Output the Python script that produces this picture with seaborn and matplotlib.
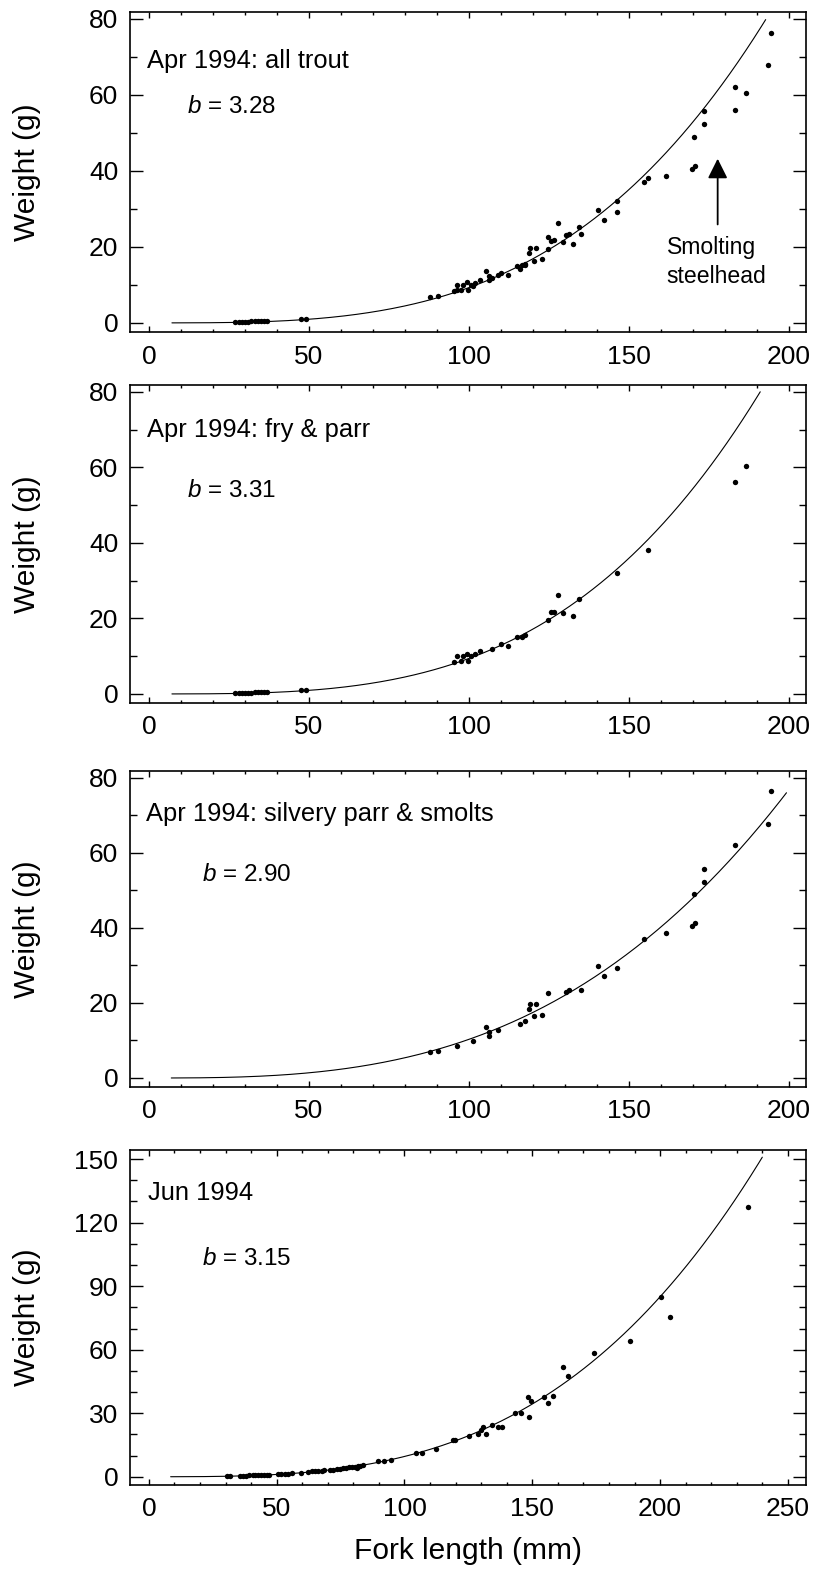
import numpy as np
import pandas as pd
import matplotlib
matplotlib.use("Agg")
import matplotlib.pyplot as plt
import seaborn as sns
from matplotlib.ticker import MultipleLocator

# ---------------- data ----------------
# Apr 1994: fry & parr
fry_len = [27, 28, 29, 30, 31, 32, 33, 34, 35, 36, 37, 47.6, 49.0,
           95.4, 96.3, 97.4, 98.2, 99.5, 99.6, 100.5, 101.8, 103.3, 107.2,
           110.0, 112.1, 114.9, 116.7, 117.5, 124.8, 125.6, 126.7, 127.7,
           129.4, 132.4, 134.3, 146.3, 155.8, 183.2, 186.7]
fry_wt = [0.25, 0.28, 0.30, 0.32, 0.35, 0.38, 0.40, 0.43, 0.46, 0.50, 0.55, 1.0, 1.1,
          8.4, 10.0, 8.6, 10.0, 10.7, 8.6, 10.0, 10.6, 11.3, 11.9,
          13.2, 12.6, 15.0, 15.2, 15.5, 19.5, 21.6, 21.8, 26.3,
          21.4, 20.7, 25.2, 32.0, 38.0, 56.0, 60.4]

# Apr 1994: silvery parr & smolts
smolt_len = [87.9, 90.2, 96.3, 101.4, 105.2, 106.2, 106.2, 109.1, 115.9, 117.6,
             118.9, 119.1, 120.8, 120.2, 122.7, 124.8, 130.4, 131.1, 135.0, 140.2,
             142.2, 146.3, 154.8, 161.6, 169.7, 170.7, 170.4, 173.4, 173.4, 183.2,
             193.5, 194.4]
smolt_wt = [6.9, 7.2, 8.6, 9.8, 13.7, 12.3, 11.3, 12.7, 14.3, 15.3,
            18.5, 19.6, 19.6, 16.4, 16.7, 22.7, 23.0, 23.4, 23.5, 29.8,
            27.2, 29.3, 37.1, 38.7, 40.5, 41.3, 49.0, 52.3, 55.7, 62.1,
            67.8, 76.4]

# Jun 1994
jun_len = [30.4, 31.7, 35.6, 36.9, 38.0, 39.3, 40.6, 41.5, 42.8, 43.9, 45.0, 46.1, 47.0,
           50.7, 51.7, 53.3, 54.6, 55.9, 59.4, 62.4, 63.8, 65.0, 66.3, 67.6, 68.5,
           70.9, 72.2, 73.5, 74.8, 76.1, 77.2, 78.3, 79.4, 80.7, 81.8, 82.7, 83.7, 81.3,
           89.8, 91.8, 94.6, 104.5, 107.0, 112.2, 119.1, 119.8, 125.4, 128.9, 129.9,
           130.7, 131.8, 134.4, 136.7, 138.2, 143.4, 145.6, 148.8, 148.3, 149.4,
           154.5, 156.3, 158.2, 162.2, 164.0, 174.3, 188.4, 200.3, 204.0, 234.6]
jun_wt = [0.30, 0.35, 0.45, 0.50, 0.55, 0.60, 0.65, 0.70, 0.75, 0.80, 0.90, 0.95, 1.0,
          1.2, 1.3, 1.4, 1.5, 1.6, 2.0, 2.3, 2.5, 2.6, 2.8, 2.9, 3.0,
          3.2, 3.4, 3.6, 3.8, 4.0, 4.2, 4.4, 4.6, 4.8, 5.0, 5.3, 5.7, 4.0,
          7.2, 7.4, 8.1, 11.3, 11.3, 13.1, 17.3, 17.3, 19.1, 20.3, 22.1,
          23.3, 20.3, 24.4, 23.6, 23.6, 30.2, 30.2, 28.3, 37.5, 35.8,
          37.5, 34.8, 38.3, 51.7, 47.7, 58.4, 64.1, 84.9, 75.6, 127.3]

panel_titles = ["Apr 1994: all trout", "Apr 1994: fry & parr",
                "Apr 1994: silvery parr & smolts", "Jun 1994"]
b_values = [3.28, 3.31, 2.90, 3.15]
# fitted W = a * L^b curves: start length, and end point
fit_start_len = [7.2, 7.2, 7.0, 8.5]
fit_end_len = [192.7, 191.0, 199.2, 240.0]
fit_end_wt = [79.8, 80.0, 76.0, 150.9]

x_ticks_apr = [0, 50, 100, 150, 200]
x_ticks_jun = [0, 50, 100, 150, 200, 250]
y_ticks_apr = [0, 20, 40, 60, 80]
y_ticks_jun = [0, 30, 60, 90, 120, 150]

# ---------------- style ----------------
sns.set_style("ticks")
plt.rcParams["font.family"] = ["Liberation Sans", "DejaVu Sans"]
plt.rcParams["mathtext.fontset"] = "custom"
plt.rcParams["mathtext.it"] = "Liberation Sans:italic"
plt.rcParams["mathtext.rm"] = "Liberation Sans"

fig = plt.figure(figsize=(8.13, 15.70), dpi=100)
W, H = 813.0, 1570.0
left_px, right_px = 130, 806
frames = [(12, 332), (385, 703), (771, 1087), (1150, 1485)]

datasets = [
    (list(fry_len) + list(smolt_len), list(fry_wt) + list(smolt_wt)),
    (fry_len, fry_wt),
    (smolt_len, smolt_wt),
    (jun_len, jun_wt),
]
title_pos = [(0.025, 0.826), (0.025, 0.837), (0.023, 0.841), (0.027, 0.851)]
b_pos = [(0.084, 0.684), (0.084, 0.649), (0.107, 0.651), (0.107, 0.657)]

axes = []
for i in range(4):
    top, bot = frames[i]
    ax = fig.add_axes([left_px / W, 1 - bot / H, (right_px - left_px) / W, (bot - top) / H])
    axes.append(ax)
    L, Wt = datasets[i]
    df = pd.DataFrame({"length": L, "weight": Wt})
    sns.scatterplot(data=df, x="length", y="weight", ax=ax, color="black",
                    s=15, linewidth=0, zorder=3)
    Lc = np.linspace(fit_start_len[i], fit_end_len[i], 300)
    a = fit_end_wt[i] / fit_end_len[i] ** b_values[i]
    cdf = pd.DataFrame({"length": Lc, "weight": a * Lc ** b_values[i]})
    sns.lineplot(data=cdf, x="length", y="weight", ax=ax, color="black",
                 linewidth=0.8, sort=False, estimator=None, zorder=2)

    if i < 3:
        ax.set_xlim(-5.9, 205.3)
        ax.set_ylim(-2.4, 81.8)
        ax.set_xticks(x_ticks_apr)
        ax.set_yticks(y_ticks_apr)
    else:
        ax.set_xlim(-7.4, 257.1)
        ax.set_ylim(-3.9, 154.3)
        ax.set_xticks(x_ticks_jun)
        ax.set_yticks(y_ticks_jun)
    ax.xaxis.set_minor_locator(MultipleLocator(10))
    ax.yaxis.set_minor_locator(MultipleLocator(10))

    ax.tick_params(axis="both", which="both", direction="in", top=True, right=True,
                   width=1.0, color="black", labelcolor="black")
    ax.tick_params(axis="y", which="major", length=9.5, pad=8.5, labelsize=19)
    ax.tick_params(axis="y", which="minor", length=5)
    ax.tick_params(axis="x", which="major", length=4.3, pad=9, labelsize=19)
    ax.tick_params(axis="x", which="minor", length=2.5)
    for sp in ax.spines.values():
        sp.set_visible(True)
        sp.set_linewidth(1.2)
        sp.set_color("black")

    ax.set_ylabel("Weight (g)", fontsize=21.5, color="black")
    ax.yaxis.set_label_coords(-0.132, 0.5)
    if i == 3:
        ax.set_xlabel("Fork length (mm)", fontsize=21.5, color="black")
        ax.xaxis.set_label_coords(0.5, -0.155)
    else:
        ax.set_xlabel("")

    ax.text(title_pos[i][0], title_pos[i][1], panel_titles[i], transform=ax.transAxes,
            fontsize=18.4, va="baseline", ha="left", color="black")
    ax.text(b_pos[i][0], b_pos[i][1], "$b$ = %.2f" % b_values[i], transform=ax.transAxes,
            fontsize=17.5, va="baseline", ha="left", color="black")

# Smolting steelhead annotation on the first panel
ax0 = axes[0]
ax0.annotate("", xy=(177.7, 43.2), xytext=(177.7, 25.9),
             arrowprops=dict(arrowstyle="-|>,head_length=0.6,head_width=0.3",
                             color="black", lw=1.3, mutation_scale=20,
                             shrinkA=0, shrinkB=0))
ax0.text(161.8, 18.0, "Smolting", fontsize=16.6, ha="left", va="baseline", color="black")
ax0.text(161.8, 10.6, "steelhead", fontsize=16.6, ha="left", va="baseline", color="black")

fig.savefig("out.png", dpi=100)
